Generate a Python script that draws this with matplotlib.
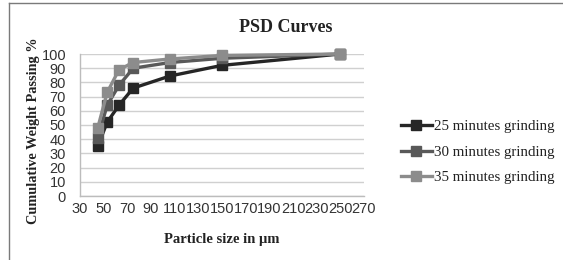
import matplotlib
matplotlib.use("Agg")
import matplotlib.pyplot as plt
from matplotlib.lines import Line2D

sizes = [45, 53, 63, 75, 106, 150, 250]
g25 = [35, 52, 64, 76, 84.5, 92, 100]
g30 = [41, 64, 78, 90, 94, 97, 100]
g35 = [48, 73, 89, 94, 96.5, 99, 100]
series_names = ["25 minutes grinding", "30 minutes grinding", "35 minutes grinding"]
colors = ["#262626", "#595959", "#8c8c8c"]
xticks = list(range(30, 271, 20))
yticks = list(range(0, 101, 10))

fig = plt.figure(figsize=(5.63, 2.6), dpi=100)
ax = fig.add_axes([80/563, 1-196/260, (364-80)/563, (196-54)/260])

for vals, c, name in zip([g25, g30, g35], colors, series_names):
    ax.plot(sizes, vals, color=c, lw=2.4, marker="s", ms=6.5, label=name,
            clip_on=False, zorder=3)

ax.set_xlim(30, 270)
ax.set_ylim(0, 100)
ax.set_xticks(xticks)
ax.set_yticks(yticks)
ax.set_xticklabels([str(t) for t in xticks], fontfamily="Liberation Sans", fontsize=10.5, color="#333333")
ax.set_yticklabels([str(t) for t in yticks], fontfamily="Liberation Sans", fontsize=10.5, color="#333333")
ax.tick_params(axis="both", length=0)
ax.tick_params(axis="x", pad=4)
ax.tick_params(axis="y", pad=10)
ax.yaxis.grid(True, color="#d0d0d0", lw=1)
ax.set_axisbelow(True)
for s in ["top", "right"]:
    ax.spines[s].set_visible(False)
for s in ["left", "bottom"]:
    ax.spines[s].set_color("#bcbcbc")
    ax.spines[s].set_linewidth(1)

fig.text(286/563, 1-27/260, "PSD Curves", ha="center", va="center",
         fontfamily="Liberation Serif", fontweight="bold", fontsize=13, color="#222222")
fig.text(34/563, 1-131/260, "Cumulative Weight Passing %", ha="center", va="center",
         rotation=90, fontfamily="Liberation Serif", fontweight="bold", fontsize=10.3, color="#222222")
fig.text(222/563, 1-239/260, "Particle size in µm", ha="center", va="center",
         fontfamily="Liberation Serif", fontweight="bold", fontsize=10.5, color="#222222")

handles, labels = ax.get_legend_handles_labels()
leg = fig.legend(handles, labels, loc="center left", bbox_to_anchor=(387/563, 1-152/260),
                 frameon=False, handlelength=2.1, handletextpad=0.1, labelspacing=0.8,
                 prop={"family": "Liberation Serif", "size": 10.8})
for t in leg.get_texts():
    t.set_color("#222222")

fig.add_artist(Line2D([8.5/563, 8.5/563], [0, 1-3/260], transform=fig.transFigure, color="#7a7a7a", lw=1))
fig.add_artist(Line2D([8.5/563, 1], [1-3/260, 1-3/260], transform=fig.transFigure, color="#7a7a7a", lw=1))

fig.savefig("out.png", dpi=100)
